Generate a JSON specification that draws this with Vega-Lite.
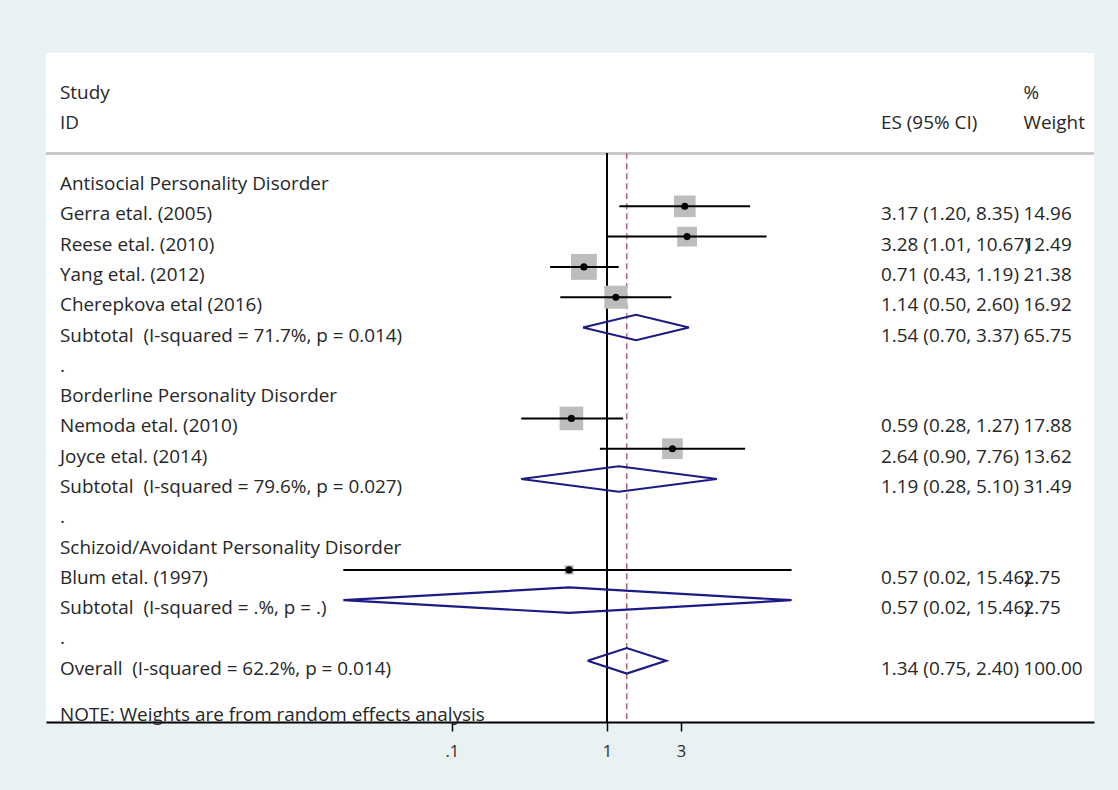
{
  "$schema": "https://vega.github.io/schema/vega-lite/v6.json",
  "width": 1048,
  "height": 669,
  "autosize": {"type": "none"},
  "padding": {"left": 46, "top": 53, "right": 24, "bottom": 68},
  "background": "#E9F1F3",
  "config": {
    "view": {"stroke": null, "fill": "white"},
    "text": {"font": "Open Sans", "fontSize": 18.9, "color": "#262626"},
    "axis": {"labelFont": "Open Sans"}
  },
  "datasets": {
    "rows": [
      {"row": -2, "type": "head", "label": "Study", "es": "", "wt": "%"},
      {"row": -1, "type": "head", "label": "ID", "es": "ES (95% CI)", "wt": "Weight"},
      {"row": 1, "type": "group", "label": "Antisocial Personality Disorder", "es": "", "wt": ""},
      {"row": 2, "type": "study", "label": "Gerra etal. (2005)", "est": 3.17, "lo": 1.20, "hi": 8.35, "w": 14.96, "es": "3.17 (1.20, 8.35)", "wt": "14.96"},
      {"row": 3, "type": "study", "label": "Reese etal. (2010)", "est": 3.28, "lo": 1.01, "hi": 10.67, "w": 12.49, "es": "3.28 (1.01, 10.67)", "wt": "12.49"},
      {"row": 4, "type": "study", "label": "Yang etal. (2012)", "est": 0.71, "lo": 0.43, "hi": 1.19, "w": 21.38, "es": "0.71 (0.43, 1.19)", "wt": "21.38"},
      {"row": 5, "type": "study", "label": "Cherepkova etal (2016)", "est": 1.14, "lo": 0.50, "hi": 2.60, "w": 16.92, "es": "1.14 (0.50, 2.60)", "wt": "16.92"},
      {"row": 6, "type": "subtotal", "label": "Subtotal \u00a0(I-squared = 71.7%, p = 0.014)", "est": 1.54, "lo": 0.70, "hi": 3.37, "w": 65.75, "es": "1.54 (0.70, 3.37)", "wt": "65.75"},
      {"row": 7, "type": "dot", "label": ".", "es": "", "wt": ""},
      {"row": 8, "type": "group", "label": "Borderline Personality Disorder", "es": "", "wt": ""},
      {"row": 9, "type": "study", "label": "Nemoda etal. (2010)", "est": 0.59, "lo": 0.28, "hi": 1.27, "w": 17.88, "es": "0.59 (0.28, 1.27)", "wt": "17.88"},
      {"row": 10, "type": "study", "label": "Joyce etal. (2014)", "est": 2.64, "lo": 0.90, "hi": 7.76, "w": 13.62, "es": "2.64 (0.90, 7.76)", "wt": "13.62"},
      {"row": 11, "type": "subtotal", "label": "Subtotal \u00a0(I-squared = 79.6%, p = 0.027)", "est": 1.19, "lo": 0.28, "hi": 5.10, "w": 31.49, "es": "1.19 (0.28, 5.10)", "wt": "31.49"},
      {"row": 12, "type": "dot", "label": ".", "es": "", "wt": ""},
      {"row": 13, "type": "group", "label": "Schizoid/Avoidant Personality Disorder", "es": "", "wt": ""},
      {"row": 14, "type": "study", "label": "Blum etal. (1997)", "est": 0.57, "lo": 0.02, "hi": 15.46, "w": 2.75, "es": "0.57 (0.02, 15.46)", "wt": "2.75"},
      {"row": 15, "type": "subtotal", "label": "Subtotal \u00a0(I-squared = .%, p = .)", "est": 0.57, "lo": 0.02, "hi": 15.46, "w": 2.75, "es": "0.57 (0.02, 15.46)", "wt": "2.75"},
      {"row": 16, "type": "dot", "label": ".", "es": "", "wt": ""},
      {"row": 17, "type": "overall", "label": "Overall \u00a0(I-squared = 62.2%, p = 0.014)", "est": 1.34, "lo": 0.75, "hi": 2.40, "w": 100.0, "es": "1.34 (0.75, 2.40)", "wt": "100.00"},
      {"row": 18.53, "type": "note", "label": "NOTE: Weights are from random effects analysis", "es": "", "wt": ""}
    ],
    "diamonds": [
      {"g": "A", "o": 1, "x": 0.70, "y": 6},
      {"g": "A", "o": 2, "x": 1.54, "y": 5.58},
      {"g": "A", "o": 3, "x": 3.37, "y": 6},
      {"g": "A", "o": 4, "x": 1.54, "y": 6.42},
      {"g": "A", "o": 5, "x": 0.70, "y": 6},
      {"g": "B", "o": 1, "x": 0.28, "y": 11},
      {"g": "B", "o": 2, "x": 1.19, "y": 10.58},
      {"g": "B", "o": 3, "x": 5.10, "y": 11},
      {"g": "B", "o": 4, "x": 1.19, "y": 11.42},
      {"g": "B", "o": 5, "x": 0.28, "y": 11},
      {"g": "C", "o": 1, "x": 0.02, "y": 15},
      {"g": "C", "o": 2, "x": 0.57, "y": 14.58},
      {"g": "C", "o": 3, "x": 15.46, "y": 15},
      {"g": "C", "o": 4, "x": 0.57, "y": 15.42},
      {"g": "C", "o": 5, "x": 0.02, "y": 15},
      {"g": "O", "o": 1, "x": 0.75, "y": 17},
      {"g": "O", "o": 2, "x": 1.34, "y": 16.58},
      {"g": "O", "o": 3, "x": 2.40, "y": 17},
      {"g": "O", "o": 4, "x": 1.34, "y": 17.42},
      {"g": "O", "o": 5, "x": 0.75, "y": 17}
    ]
  },
  "data": {"name": "rows"},
  "layer": [
    {
      "mark": {"type": "rule", "color": "#C8C8C8", "strokeWidth": 2},
      "encoding": {"y": {"datum": 0.25, "type": "quantitative", "scale": {"domain": [-3.06, 19.02], "reverse": true, "nice": false, "zero": false}, "axis": null}}
    },
    {
      "mark": {"type": "rule", "color": "black", "strokeWidth": 1.5},
      "encoding": {
        "x": {"datum": 1, "type": "quantitative"},
        "y": {"datum": 0.25, "type": "quantitative"},
        "y2": {"datum": 19.02}
      }
    },
    {
      "transform": [{"filter": "datum.type == 'overall'"}],
      "mark": {"type": "rule", "color": "#B5656B", "strokeWidth": 1.5, "strokeDash": [6, 4]},
      "encoding": {
        "x": {"field": "est", "type": "quantitative"},
        "y": {"datum": 0.25, "type": "quantitative"},
        "y2": {"datum": 19.02}
      }
    },
    {
      "transform": [{"filter": "datum.type == 'study'"}],
      "mark": {"type": "square", "color": "#BDBDBD", "opacity": 1},
      "encoding": {
        "x": {"field": "est", "type": "quantitative"},
        "y": {"field": "row", "type": "quantitative"},
        "size": {"field": "w", "type": "quantitative", "scale": {"domain": [0, 21.38], "range": [0, 670]}, "legend": null}
      }
    },
    {
      "transform": [{"filter": "datum.type == 'study'"}],
      "mark": {"type": "rule", "color": "black", "strokeWidth": 2},
      "encoding": {
        "x": {"field": "lo", "type": "quantitative"},
        "x2": {"field": "hi"},
        "y": {"field": "row", "type": "quantitative"}
      }
    },
    {
      "transform": [{"filter": "datum.type == 'study'"}],
      "mark": {"type": "point", "filled": true, "color": "black", "size": 50, "opacity": 1},
      "encoding": {
        "x": {"field": "est", "type": "quantitative"},
        "y": {"field": "row", "type": "quantitative"}
      }
    },
    {
      "data": {"name": "diamonds"},
      "mark": {"type": "line", "color": "#1B1B85", "strokeWidth": 2.2, "strokeJoin": "miter"},
      "encoding": {
        "x": {"field": "x", "type": "quantitative"},
        "y": {"field": "y", "type": "quantitative"},
        "detail": {"field": "g"},
        "order": {"field": "o", "type": "quantitative"}
      }
    },
    {
      "mark": {"type": "text", "align": "left", "baseline": "middle", "dy": 8},
      "encoding": {
        "x": {"datum": 0.0002988, "type": "quantitative"},
        "y": {"field": "row", "type": "quantitative"},
        "text": {"field": "label"}
      }
    },
    {
      "mark": {"type": "text", "align": "left", "baseline": "middle", "dy": 8},
      "encoding": {
        "x": {"datum": 58.3, "type": "quantitative"},
        "y": {"field": "row", "type": "quantitative"},
        "text": {"field": "es"}
      }
    },
    {
      "mark": {"type": "text", "align": "left", "baseline": "middle", "dy": 8},
      "encoding": {
        "x": {
          "datum": 482.7,
          "type": "quantitative",
          "scale": {"type": "log", "domain": [0.0002428, 1373.6], "nice": false},
          "axis": {
            "values": [0.1, 1, 3],
            "labelExpr": "datum.value < 0.5 ? '.1' : format(datum.value, 'd')",
            "title": null,
            "grid": false,
            "domainColor": "black",
            "domainWidth": 2,
            "tickColor": "black",
            "tickWidth": 1.5,
            "tickSize": 9,
            "labelFontSize": 16.5,
            "labelColor": "#2b2b2b",
            "labelPadding": 12
          }
        },
        "y": {"field": "row", "type": "quantitative"},
        "text": {"field": "wt"}
      }
    }
  ]
}
